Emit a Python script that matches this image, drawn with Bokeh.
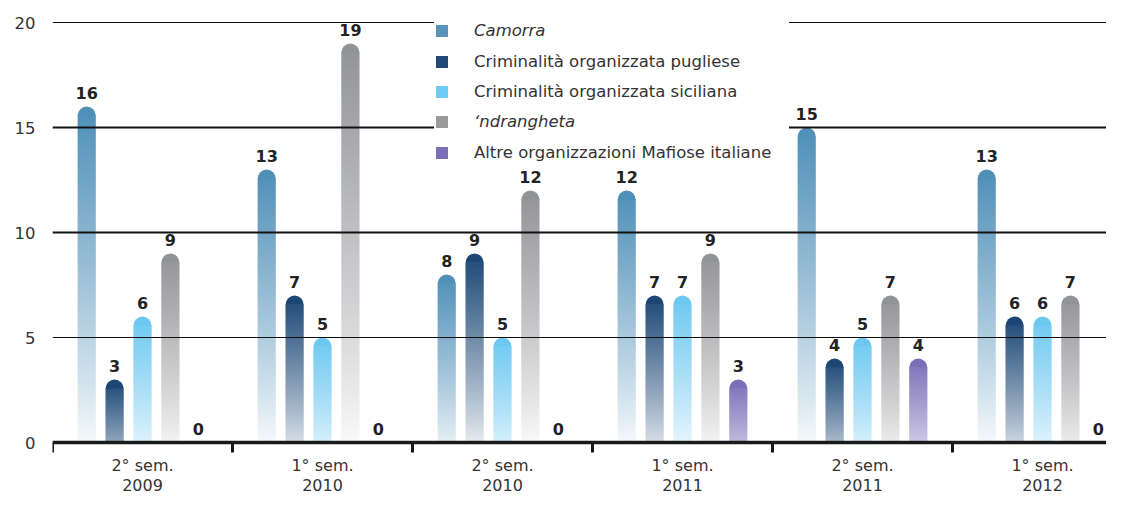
import math
from bokeh.plotting import figure
from bokeh.models import ColumnDataSource, Range1d, FixedTicker, Span, Legend, LegendItem
from bokeh.core.properties import value
from bokeh.embed import file_html
from bokeh.resources import INLINE

# ---------------- data ----------------
periods = ["2° sem.\n2009", "1° sem.\n2010", "2° sem.\n2010",
           "1° sem.\n2011", "2° sem.\n2011", "1° sem.\n2012"]
series_names = ["Camorra", "Criminalità organizzata pugliese",
                "Criminalità organizzata siciliana", "‘ndrangheta",
                "Altre organizzazioni Mafiose italiane"]
camorra = [16, 13, 8, 12, 15, 13]
pugliese = [3, 7, 9, 7, 4, 6]
siciliana = [6, 5, 5, 7, 5, 6]
ndrangheta = [9, 19, 12, 9, 7, 7]
altre = [0, 0, 0, 3, 4, 0]
y_ticks = [0, 5, 10, 15, 20]

series_values = [camorra, pugliese, siciliana, ndrangheta, altre]
bar_colors = ["#4f8fb8", "#1c4775", "#6cc8f0", "#929396", "#7b70b8"]
legend_colors = ["#5b93b7", "#1f4a78", "#6ecbf3", "#9a9a9a", "#7a6fb5"]
italic = [True, False, False, True, False]

# ---------------- styling helpers ----------------
W, H = 1106, 495
LEFT = 52
ZERO_PX, TOP20_PX = 442, 22          # canvas rows of y=0 and y=20
PPU = (ZERO_PX - TOP20_PX) / 20.0
Y_START = -(H - ZERO_PX) / PPU
Y_END = 20 + TOP20_PX / PPU
X_END = (W - LEFT) / 180.0

offsets = [0.19 + 0.155 * k for k in range(5)]
BAR_W = 0.1
CAP = 9 / PPU
TICK_LEN = 10 / PPU
STEP = 2 / PPU            # gradient step = 2 screen pixels
FONT = "DejaVu Sans"


def hex2rgb(h):
    h = h.lstrip("#")
    return tuple(int(h[i:i + 2], 16) for i in (0, 2, 4))


def mix(col, f):
    r, g, b = hex2rgb(col)
    return "#%02x%02x%02x" % tuple(int(round(255 + (c - 255) * f)) for c in (r, g, b))


seg = dict(x=[], bottom=[], top=[], color=[])
cap = dict(x=[], bottom=[], top=[], color=[])
lab = dict(x=[], y=[], text=[])

for s, vals in enumerate(series_values):
    for g, v in enumerate(vals):
        xc = g + offsets[s]
        lab["x"].append(xc)
        lab["y"].append(v)
        lab["text"].append(str(v))
        if v <= 0:
            continue
        fb = max(0.05, math.exp(-v / 4.0))
        body = v - CAP
        n = int(math.ceil(body / STEP))
        for j in range(n):
            b0 = j * STEP
            t = min(1.0, (b0 + STEP / 2) / v)
            f = fb + (1 - fb) * t ** 0.9
            seg["x"].append(xc)
            seg["bottom"].append(b0)
            seg["top"].append(min(body + 0.02, b0 + 1.5 * STEP))
            seg["color"].append(mix(bar_colors[s], f))
        cap["x"].append(xc)
        cap["bottom"].append(body)
        cap["top"].append(v)
        cap["color"].append(bar_colors[s])

# ---------------- figure ----------------
p = figure(width=W, height=H, output_backend="svg", toolbar_location=None,
           x_range=Range1d(0, X_END), y_range=Range1d(Y_START, Y_END),
           min_border_left=LEFT, min_border_right=0, min_border_top=0,
           min_border_bottom=0)
p.outline_line_color = None
p.xgrid.visible = False
p.ygrid.visible = False
p.xaxis.visible = False
p.background_fill_color = "white"

p.vbar(x="x", bottom="bottom", top="top", width=BAR_W, source=ColumnDataSource(seg),
       fill_color="color", line_color=None)
p.vbar(x="x", bottom="bottom", top="top", width=BAR_W, source=ColumnDataSource(cap),
       fill_color="color", line_color=None, border_radius=(9, 9, 0, 0))
p.text(x="x", y="y", text="text", source=ColumnDataSource(lab),
       text_align="center", text_baseline="bottom", y_offset=-8,
       text_font=value(FONT), text_font_style="bold",
       text_font_size="16px", text_color="#222222")

# category axis drawn by hand: boundary ticks + two-line labels
centers = [g + 0.5 for g in range(len(periods))]
bounds = [float(g) for g in range(len(periods))]
p.segment(x0=bounds, y0=[0] * len(bounds), x1=bounds, y1=[-TICK_LEN] * len(bounds),
          line_color="#1a1a1a", line_width=3)
p.text(x=centers, y=[0] * len(centers), text=periods,
       text_align="center", text_baseline="top", y_offset=13,
       text_line_height=1.1, text_font=value(FONT),
       text_font_size="16px", text_color="#333333")

# y axis
p.yaxis.ticker = FixedTicker(ticks=y_ticks)
p.yaxis.axis_line_color = None
p.yaxis.major_tick_line_color = None
p.yaxis.minor_tick_line_color = None
p.yaxis.major_tick_out = 0
p.yaxis.major_label_standoff = 17
p.yaxis.major_label_text_font = FONT
p.yaxis.major_label_text_font_size = "16.5px"
p.yaxis.major_label_text_color = "#333333"

# horizontal rules (drawn above bars)
for yv in y_ticks[1:]:
    p.add_layout(Span(location=yv, dimension="width", line_color="#111111",
                      line_width=2 if yv in (10, 15) else 1))
p.add_layout(Span(location=0, dimension="width", line_color="#1a1a1a", line_width=3.5))

# legend: one block per row so that some labels can be italic
for i, (name, col) in enumerate(zip(series_names, legend_colors)):
    r = p.vbar(x=[-5], top=[0], bottom=[0], width=BAR_W,
               fill_color=col, line_color=None)
    lg = Legend(items=[LegendItem(label=name, renderers=[r])],
                location=(382, int(round(453 - 30.5 * i))),
                background_fill_color="white", background_fill_alpha=1.0,
                border_line_color=None, padding=0, spacing=0, margin=0,
                glyph_width=15, glyph_height=15, label_standoff=25,
                label_width=315, label_height=24,
                label_text_font=FONT, label_text_font_size="16.5px",
                label_text_color="#333333",
                label_text_font_style="italic" if italic[i] else "normal")
    p.add_layout(lg)

open("out.html", "w").write(file_html(p, INLINE))
